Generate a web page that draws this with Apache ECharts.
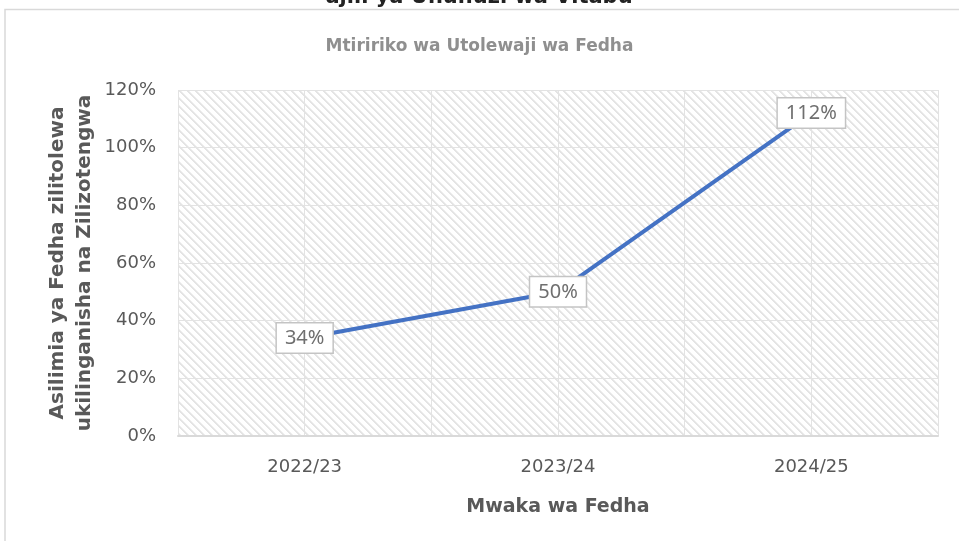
<!DOCTYPE html>
<html>
<head>
<meta charset="utf-8">
<title>Mtiririko wa Utolewaji wa Fedha</title>
<script src="https://cdn.jsdelivr.net/npm/echarts@6/dist/echarts.min.js"></script>
<style>
  html, body { margin: 0; padding: 0; background: #ffffff; }
  #chart { width: 959px; height: 541px; }
</style>
</head>
<body>
<div id="chart"></div>
<script>
// Financial years and share of allocated funds that was released (%)
const years = ['2022/23', '2023/24', '2024/25'];
const releasedPct = [34, 50, 112];
const yTicks = [0, 20, 40, 60, 80, 100, 120];

const titleText = 'ajili ya Ununuzi wa Vitabu';
const subtitleText = 'Mtiririko wa Utolewaji wa Fedha';
const xAxisTitle = 'Mwaka wa Fedha';
const yAxisTitle = 'Asilimia ya Fedha zilitolewa\nukilinganisha na Zilizotengwa';

// Wide downward-diagonal hatch used as the plot background
function hatchPattern() {
  const size = 8;
  const c = document.createElement('canvas');
  c.width = size; c.height = size;
  const ctx = c.getContext('2d');
  ctx.fillStyle = '#ffffff';
  ctx.fillRect(0, 0, size, size);
  for (let y = 0; y < size; y++) {
    ctx.fillStyle = '#e4e4e4';
    ctx.fillRect(y % size, y, 1, 1);
    ctx.fillRect((y + 1) % size, y, 1, 1);
    ctx.fillStyle = '#f0f0f0';
    ctx.fillRect((y + 2) % size, y, 1, 1);
  }
  return { image: c, repeat: 'repeat' };
}

const chart = echarts.init(document.getElementById('chart'), null, { renderer: 'canvas' });

const option = {
  backgroundColor: '#ffffff',
  animation: false,
  textStyle: { fontFamily: 'DejaVu Sans' },
  title: {
    text: subtitleText,
    left: 'center',
    top: 33,
    textStyle: { fontFamily: 'DejaVu Sans', fontSize: 17, fontWeight: 'bold', color: '#8f8f8f' }
  },
  graphic: [
    {
      type: 'rect',
      silent: true,
      z: -1,
      shape: { x: 5, y: 9.5, width: 1000, height: 600 },
      style: { fill: 'none', stroke: '#d9d9d9', lineWidth: 1.5 }
    },
    {
      type: 'text',
      silent: true,
      style: {
        text: titleText,
        x: 479, y: -2,
        textAlign: 'center',
        textVerticalAlign: 'middle',
        fontFamily: 'DejaVu Sans',
        fontSize: 21,
        fontWeight: 'bold',
        fill: '#222222'
      }
    }
  ],
  grid: {
    left: 178, right: 21, top: 90, bottom: 105,
    show: true,
    borderWidth: 0,
    backgroundColor: hatchPattern()
  },
  xAxis: [
    {
      type: 'category',
      data: years,
      boundaryGap: true,
      name: xAxisTitle,
      nameLocation: 'middle',
      nameGap: 62,
      nameMoveOverlap: false,
      nameTextStyle: { fontFamily: 'DejaVu Sans', fontSize: 19, fontWeight: 'bold', color: '#595959' },
      axisLine: { show: true, lineStyle: { color: '#d9d9d9', width: 2 } },
      axisTick: { show: false },
      axisLabel: { fontFamily: 'DejaVu Sans', fontSize: 18, color: '#595959', margin: 22 },
      splitLine: { show: false }
    },
    {
      // half-category vertical gridlines
      type: 'value',
      position: 'bottom',
      min: 0, max: 6, interval: 1,
      axisLine: { show: false },
      axisTick: { show: false },
      axisLabel: { show: false },
      splitLine: { show: true, lineStyle: { color: '#e3e3e3', width: 1 } }
    }
  ],
  yAxis: {
    type: 'value',
    min: 0, max: 120, interval: 20,
    name: yAxisTitle,
    nameLocation: 'middle',
    nameGap: 80,
    nameMoveOverlap: false,
    nameRotate: 90,
    nameTextStyle: { fontFamily: 'DejaVu Sans', fontSize: 20, fontWeight: 'bold', color: '#595959', lineHeight: 27 },
    axisLine: { show: false },
    axisTick: { show: false },
    axisLabel: {
      fontFamily: 'DejaVu Sans', fontSize: 18, color: '#595959', margin: 22,
      formatter: v => yTicks.includes(v) ? v + '%' : ''
    },
    splitLine: { show: true, lineStyle: { color: '#e3e3e3', width: 1 } }
  },
  series: [
    {
      type: 'line',
      xAxisIndex: 0,
      data: releasedPct,
      symbol: 'circle',
      symbolSize: 1,
      showSymbol: true,
      lineStyle: { color: '#4472c4', width: 4 },
      itemStyle: { color: '#4472c4' },
      label: {
        show: true,
        position: 'inside',
        formatter: p => p.value + '%',
        fontFamily: 'Noto Sans',
        fontSize: 20,
        lineHeight: 21,
        color: '#6f6f6f',
        backgroundColor: '#ffffff',
        borderColor: '#c4c4c4',
        borderWidth: 1.5,
        padding: [4, 8]
      },
      z: 3
    }
  ]
};

chart.setOption(option);
</script>
</body>
</html>
